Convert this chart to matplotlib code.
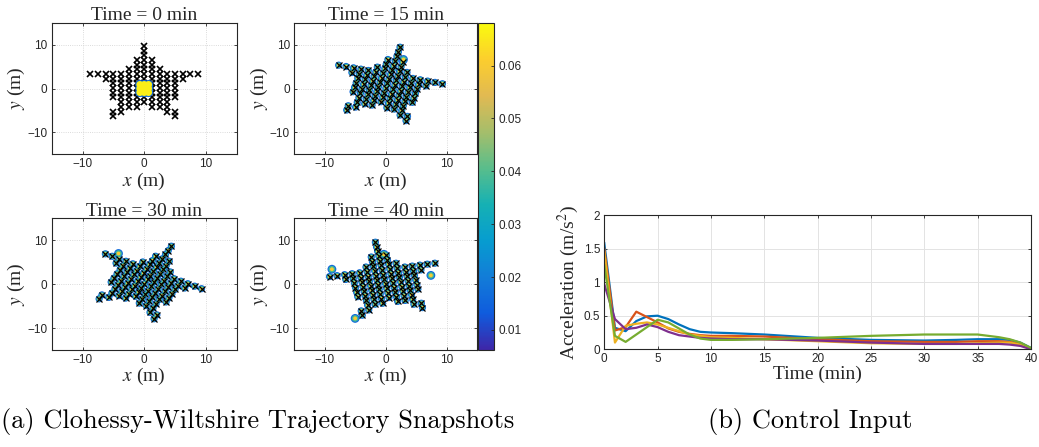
import numpy as np
import matplotlib
matplotlib.use('Agg')
import matplotlib.pyplot as plt
from matplotlib.colors import LinearSegmentedColormap, Normalize
from matplotlib.cm import ScalarMappable
from matplotlib.transforms import Affine2D

# ---- formation at t = 0 (one column of agents per x position, metres) ----
col_x = [-8.75, -7.5, -6.25, -5.0, -3.75, -2.5, -1.25, 0.0,
         1.25, 2.5, 3.75, 5.0, 6.25, 7.5, 8.75]
col_y = [
    [3.3],
    [3.3],
    [3.3, 2.2],
    [3.3, 2.2, 1.2, 0.1, -1.0, -2.0, -5.3, -6.3],
    [3.3, 2.2, 1.2, 0.1, -1.0, -2.0, -3.1, -4.2, -5.3],
    [4.4, 3.3, 2.2, 1.2, 0.1, -1.0, -2.0, -3.1, -4.2],
    [6.5, 5.4, 4.4, 3.3, 2.2, 1.2, 0.1, -1.0, -2.0, -3.1, -4.2],
    [9.7, 8.6, 7.6, 6.5, 5.4, 4.4, 3.3, 2.2, 1.2, 0.1, -1.0, -2.0, -3.1],
    [6.5, 5.4, 4.4, 3.3, 2.2, 1.2, 0.1, -1.0, -2.0, -3.1, -4.2],
    [4.4, 3.3, 2.2, 1.2, 0.1, -1.0, -2.0, -3.1, -4.2],
    [3.3, 2.2, 1.2, 0.1, -1.0, -2.0, -3.1, -4.2, -5.3],
    [3.3, 2.2, 1.2, 0.1, -1.0, -2.0, -5.3, -6.3],
    [3.3, 2.2],
    [3.3],
    [3.3],
]

# agents' density blob at t = 0 (all packed at the origin)
cluster_x = [-0.7, 0.0, 0.7, -0.7, 0.0, 0.7, -0.7, 0.0, 0.7]
cluster_y = [0.9, 0.9, 0.9, 0.0, 0.0, 0.0, -0.9, -0.9, -0.9]

# snapshots
snap_minutes = [0, 15, 30, 40]
snap_angle = [0, -14, -27, 10]          # formation rotation (deg)
stray_x = [[], [2.9], [-4.2], [-8.8, -5.0, 7.4, -0.3]]
stray_y = [[], [6.8], [7.1], [3.4, -7.8, 2.0, 6.8]]
blob_levels = [0.016, 0.038, 0.06]       # density shading ring -> centre

# ---- control input ----
ctrl_t = [0, 1, 2, 3, 4, 5, 6, 7, 8, 9, 10, 12, 15, 20, 25, 30, 33, 35, 37, 38, 39, 40]
acc_blue = [1.58, 0.32, 0.27, 0.42, 0.49, 0.50, 0.45, 0.37, 0.30, 0.26, 0.25, 0.24,
            0.22, 0.17, 0.14, 0.13, 0.14, 0.15, 0.15, 0.14, 0.10, 0.02]
acc_orange = [1.50, 0.28, 0.33, 0.56, 0.48, 0.40, 0.31, 0.26, 0.23, 0.21, 0.20, 0.20,
              0.19, 0.15, 0.12, 0.11, 0.11, 0.12, 0.12, 0.11, 0.08, 0.0]
acc_yellow = [1.45, 0.10, 0.35, 0.38, 0.40, 0.37, 0.32, 0.27, 0.22, 0.20, 0.18, 0.17,
              0.15, 0.12, 0.09, 0.08, 0.08, 0.09, 0.10, 0.10, 0.07, 0.0]
acc_purple = [0.97, 0.45, 0.30, 0.32, 0.37, 0.33, 0.26, 0.21, 0.19, 0.17, 0.16, 0.15,
              0.15, 0.13, 0.10, 0.08, 0.08, 0.08, 0.08, 0.07, 0.05, 0.0]
acc_green = [1.25, 0.20, 0.11, 0.22, 0.33, 0.44, 0.40, 0.31, 0.22, 0.16, 0.14, 0.14,
             0.15, 0.17, 0.20, 0.22, 0.22, 0.22, 0.18, 0.15, 0.10, 0.02]
acc_series = [acc_blue, acc_orange, acc_yellow, acc_purple, acc_green]
acc_colors = ['#0072BD', '#D95319', '#EDB120', '#7E2F8E', '#77AC30']

cb_min, cb_max = 0.0062, 0.0681

parula = LinearSegmentedColormap.from_list('parula', [
    (0.2422, 0.1504, 0.6603), (0.0591, 0.3598, 0.8683), (0.0723, 0.4887, 0.8467),
    (0.0265, 0.6137, 0.8135), (0.0843, 0.6928, 0.7062), (0.3482, 0.7424, 0.5473),
    (0.6473, 0.7456, 0.4188), (0.8824, 0.7274, 0.3217), (0.9880, 0.8066, 0.1794),
    (0.9763, 0.9831, 0.0538)])
norm = Normalize(cb_min, cb_max)

plt.rcParams['mathtext.fontset'] = 'stix'
serif = 'Liberation Serif'
sans = 'Liberation Sans'
dark = '#262626'

star_x = np.concatenate([[x] * len(ys) for x, ys in zip(col_x, col_y)])
star_y = np.concatenate(col_y)

fig = plt.figure(figsize=(10.39, 4.47), dpi=100)

rects = [[0.0498, 0.6548, 0.178, 0.2944], [0.283, 0.6548, 0.1764, 0.2944],
         [0.0498, 0.217, 0.178, 0.2946], [0.283, 0.217, 0.1764, 0.2946]]


def style_axes(ax):
    for s in ax.spines.values():
        s.set_color(dark)
        s.set_linewidth(0.8)
    ax.tick_params(direction='in', length=2.5, width=0.6, colors=dark,
                   top=True, right=True, labelsize=8.5, pad=3)
    for lab in ax.get_xticklabels() + ax.get_yticklabels():
        lab.set_family(sans)


for i, rect in enumerate(rects):
    ax = fig.add_axes(rect)
    tr = Affine2D().rotate_deg(snap_angle[i]) + ax.transData
    if i == 0:
        ax.plot(star_x, star_y, 'x', color='k', ms=4.5, mew=1.2, transform=tr, zorder=3)
        ax.scatter(cluster_x, cluster_y, s=44, c=[blob_levels[0]] * 9, cmap=parula,
                   norm=norm, linewidths=0, zorder=4)
        ax.scatter(cluster_x, cluster_y, s=26, c=[0.066] * 9, cmap=parula,
                   norm=norm, linewidths=0, zorder=5)
    else:
        sizes = [27, 15, 5]
        for lev, sz in zip(blob_levels, sizes):
            ax.scatter(star_x, star_y, s=sz, c=[lev] * len(star_x), cmap=parula,
                       norm=norm, linewidths=0, transform=tr, zorder=2)
            if stray_x[i]:
                ax.scatter(stray_x[i], stray_y[i], s=sz * 1.5, c=[lev] * len(stray_x[i]),
                           cmap=parula, norm=norm, linewidths=0, zorder=2)
        ax.plot(star_x, star_y, 'x', color='k', ms=3.8, mew=0.9, transform=tr, zorder=3)
    ax.set_xlim(-15, 15)
    ax.set_ylim(-15, 15)
    ax.set_xticks([-10, 0, 10])
    ax.set_yticks([-10, 0, 10])
    ax.grid(True, linestyle=':', color='#cfcfcf', linewidth=0.6)
    ax.set_axisbelow(True)
    ax.set_title(f'Time = {snap_minutes[i]} min', family=serif, fontsize=14,
                 color=dark, pad=2)
    ax.set_xlabel('$x$ (m)', family=serif, fontsize=14, labelpad=0, color=dark)
    ax.set_ylabel('$y$ (m)', family=serif, fontsize=14, labelpad=0, color=dark)
    style_axes(ax)

# colorbar
cax = fig.add_axes([0.460, 0.217, 0.0154, 0.732])
cb = fig.colorbar(ScalarMappable(norm=norm, cmap=parula), cax=cax)
cb.set_ticks([0.01, 0.02, 0.03, 0.04, 0.05, 0.06])
cb.ax.set_yticklabels(['0.01', '0.02', '0.03', '0.04', '0.05', '0.06'])
cb.outline.set_edgecolor(dark)
cb.outline.set_linewidth(0.8)
cax.tick_params(direction='in', length=2.5, width=0.6, colors=dark, labelsize=8.5, pad=3)
for lab in cax.get_yticklabels():
    lab.set_family(sans)

# control input panel
ax = fig.add_axes([0.5816, 0.2186, 0.4107, 0.3004])
for ys, c in zip(acc_series, acc_colors):
    ax.plot(ctrl_t, ys, color=c, lw=1.6)
ax.set_xlim(0, 40)
ax.set_ylim(0, 2)
ax.set_xticks(range(0, 41, 5))
ax.set_yticks([0, 0.5, 1, 1.5, 2])
ax.set_yticklabels(['0', '0.5', '1', '1.5', '2'])
ax.grid(True, color='#e3e3e3', linewidth=0.7)
ax.set_axisbelow(True)
ax.set_xlabel('Time (min)', family=serif, fontsize=14, labelpad=0, color=dark)
ax.set_ylabel('Acceleration (m/s$^2$)', family=serif, fontsize=14, labelpad=2, color=dark)
style_axes(ax)

fig.text(0.001, 0.058, '(a) Clohessy-Wiltshire Trajectory Snapshots',
         family='cmr10', fontsize=19, va='center', ha='left')
fig.text(0.681, 0.058, '(b) Control Input', family='cmr10', fontsize=19,
         va='center', ha='left')

fig.savefig('out.png', dpi=100)
